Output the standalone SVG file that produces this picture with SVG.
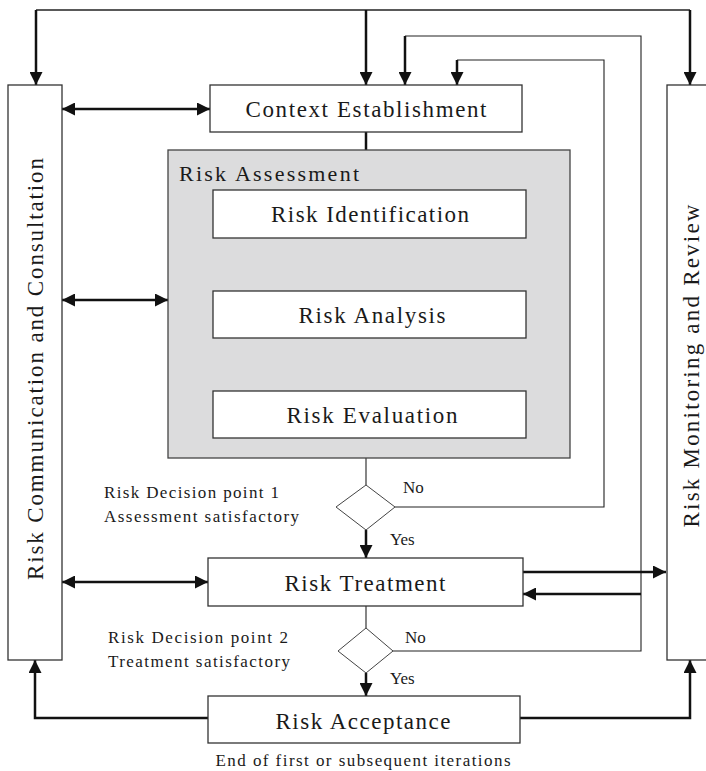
<svg xmlns="http://www.w3.org/2000/svg" width="706" height="771" viewBox="0 0 706 771" font-family="'Liberation Serif', serif">
<style>
  .box{fill:#fff;stroke:#333;stroke-width:1.3}
  .gray{fill:#dcdcdd;stroke:#444;stroke-width:1.3}
  .dia{fill:#fff;stroke:#444;stroke-width:1}
  .big{font-size:23px;fill:#1a1a1a}
  .sm{font-size:17px;fill:#1a1a1a}
  .thick{fill:none;stroke:#111;stroke-width:2.5}
  .thin{fill:none;stroke:#222;stroke-width:1.1}
</style>
<defs>
  <marker id="ah" markerUnits="userSpaceOnUse" markerWidth="14" markerHeight="13" refX="13" refY="6.5" orient="auto-start-reverse" viewBox="0 0 14 13">
    <path d="M0,0 L13,6.5 L0,13 z" fill="#111"/>
  </marker>
</defs>
<rect width="706" height="771" fill="#fff"/>

<g id="connectors">
  <path class="thin" d="M36,10 H690" style="stroke-width:1.6"/>
  <path class="thick" d="M36,10 V85" marker-end="url(#ah)"/>
  <path class="thick" d="M366,10 V85" marker-end="url(#ah)"/>
  <path class="thick" d="M690,10 V85" marker-end="url(#ah)"/>
  <path class="thin" d="M392,651 H641 V36 H405"/>
  <path class="thick" d="M405,36 V85" marker-end="url(#ah)"/>
  <path class="thin" d="M395,507 H604 V60 H457"/>
  <path class="thick" d="M457,60 V85" marker-end="url(#ah)"/>
  <path class="thick" d="M641,594 H523" marker-end="url(#ah)"/>
  <path class="thick" d="M523,572 H666" marker-end="url(#ah)"/>
  <path class="thick" d="M366,132 V190" marker-end="url(#ah)"/>
  <path class="thick" d="M366,238 V291" marker-end="url(#ah)"/>
  <path class="thick" d="M366,338 V391" marker-end="url(#ah)"/>
  <path class="thin" d="M366,438 V485"/>
  <path class="thick" d="M366,530 V558" marker-end="url(#ah)"/>
  <path class="thin" d="M366,606 V628"/>
  <path class="thick" d="M366,673 V696" marker-end="url(#ah)"/>
  <path class="thick" d="M208,718 H35 V660" marker-end="url(#ah)"/>
  <path class="thick" d="M520,718 H690 V660" marker-end="url(#ah)"/>
  <path class="thick" d="M62,109 H210" marker-start="url(#ah)" marker-end="url(#ah)"/>
  <path class="thick" d="M62,300 H168" marker-start="url(#ah)" marker-end="url(#ah)"/>
  <path class="thick" d="M62,582 H208" marker-start="url(#ah)" marker-end="url(#ah)"/>
</g>

<g id="communication">
  <rect class="box" x="8" y="85" width="54" height="575"/>
  <text class="big" transform="translate(43,369) rotate(-90)" text-anchor="middle" textLength="422" lengthAdjust="spacing">Risk Communication and Consultation</text>
</g>
<g id="monitoring">
  <rect class="box" x="667" y="85" width="60" height="575"/>
  <text class="big" transform="translate(699,366) rotate(-90)" text-anchor="middle" textLength="323" lengthAdjust="spacing">Risk Monitoring and Review</text>
</g>
<g id="context">
  <rect class="box" x="210" y="85" width="312" height="47"/>
  <text class="big" x="366" y="117" text-anchor="middle" textLength="241" lengthAdjust="spacing">Context Establishment</text>
</g>
<g id="assessment">
  <rect class="gray" x="168" y="150" width="402" height="308"/>
  <text x="179" y="181" font-size="22" fill="#1a1a1a" textLength="180" lengthAdjust="spacing">Risk Assessment</text>
</g>
<g id="identification">
  <rect class="box" x="213" y="190" width="313" height="48"/>
  <text class="big" x="370" y="222" text-anchor="middle" textLength="198" lengthAdjust="spacing">Risk Identification</text>
</g>
<g id="analysis">
  <rect class="box" x="213" y="291" width="313" height="47"/>
  <text class="big" x="372" y="323" text-anchor="middle" textLength="147" lengthAdjust="spacing">Risk Analysis</text>
</g>
<g id="evaluation">
  <rect class="box" x="213" y="391" width="313" height="47"/>
  <text class="big" x="372" y="423" text-anchor="middle" textLength="171" lengthAdjust="spacing">Risk Evaluation</text>
</g>
<g id="decision1">
  <polygon class="dia" points="366,485 395,507 366,530 336,507"/>
  <text class="sm" x="104" y="498" textLength="175" lengthAdjust="spacing">Risk Decision point 1</text>
  <text class="sm" x="104" y="522" textLength="195" lengthAdjust="spacing">Assessment satisfactory</text>
  <text class="sm" x="403" y="493">No</text>
  <text class="sm" x="390" y="545">Yes</text>
</g>
<g id="treatment">
  <rect class="box" x="208" y="558" width="315" height="48"/>
  <text class="big" x="365" y="591" text-anchor="middle" textLength="161" lengthAdjust="spacing">Risk Treatment</text>
</g>
<g id="decision2">
  <polygon class="dia" points="366,628 393,651 366,673 338,651"/>
  <text class="sm" x="108" y="643" textLength="180" lengthAdjust="spacing">Risk Decision point 2</text>
  <text class="sm" x="108" y="667" textLength="182" lengthAdjust="spacing">Treatment satisfactory</text>
  <text class="sm" x="405" y="643">No</text>
  <text class="sm" x="390" y="684">Yes</text>
</g>
<g id="acceptance">
  <rect class="box" x="208" y="696" width="312" height="47"/>
  <text class="big" x="363" y="729" text-anchor="middle" textLength="175" lengthAdjust="spacing">Risk Acceptance</text>
  <text class="sm" x="363" y="766" text-anchor="middle" textLength="295" lengthAdjust="spacing">End of first or subsequent iterations</text>
</g>
</svg>
